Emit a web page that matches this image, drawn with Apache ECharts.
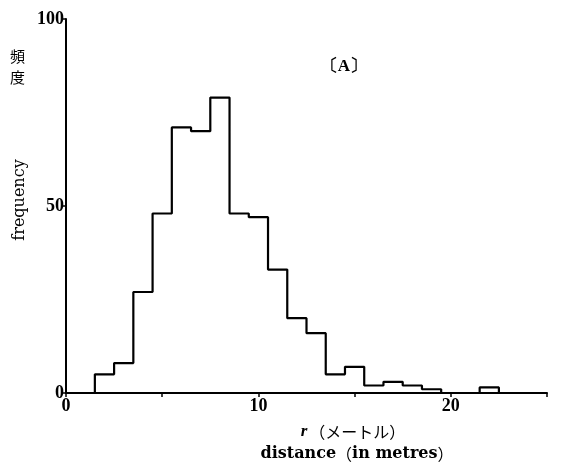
<!DOCTYPE html>
<html>
<head>
<meta charset="utf-8">
<script src="https://cdn.jsdelivr.net/npm/echarts@6/dist/echarts.min.js"></script>
<style>
html,body{margin:0;padding:0;background:#fff;}
#chart{width:563px;height:464px;}
</style>
</head>
<body>
<div id="chart"></div>
<script>
// Histogram data: left bin edges (metres) and frequencies, bin width 1
var binLeft = [1.5, 2.5, 3.5, 4.5, 5.5, 6.5, 7.5, 8.5, 9.5, 10.5, 11.5, 12.5, 13.5, 14.5, 15.5, 16.5, 17.5, 18.5, 19.5, 20.5, 21.5];
var binRight = [2.5, 3.5, 4.5, 5.5, 6.5, 7.5, 8.5, 9.5, 10.5, 11.5, 12.5, 13.5, 14.5, 15.5, 16.5, 17.5, 18.5, 19.5, 20.5, 21.5, 22.5];
var frequency = [5, 8, 27, 48, 71, 70, 79, 48, 47, 33, 20, 16, 5, 7, 2, 3, 2, 1, 0, 0, 1.5];
var xTickLabels = ['0', '10', '20'];
var yTickLabels = ['0', '50', '100'];

// Build step outline from the bins
var outline = [[binLeft[0], 0]];
for (var i = 0; i < frequency.length; i++) {
  outline.push([binLeft[i], frequency[i]]);
  outline.push([binRight[i], frequency[i]]);
}
outline.push([binRight[binRight.length - 1], 0]);

var serif = '"Liberation Serif", "DejaVu Serif", serif';
var wide = '"DejaVu Serif", serif';
var jp = '"Noto Sans CJK JP", sans-serif';

var chart = echarts.init(document.getElementById('chart'), null, {renderer: 'canvas'});
chart.setOption({
  backgroundColor: '#fff',
  animation: false,
  grid: {left: 66, right: 16, top: 19, bottom: 71, containLabel: false},
  xAxis: {
    type: 'value', min: 0, max: 25, interval: 5,
    axisLine: {lineStyle: {color: '#000', width: 2}},
    axisTick: {show: true, length: 4, lineStyle: {color: '#000', width: 1.5}},
    splitLine: {show: false},
    axisLabel: {
      color: '#000', fontFamily: serif, fontSize: 18, fontWeight: 'bold', margin: 4,
      formatter: function (v) { return xTickLabels.indexOf(String(v)) >= 0 ? String(v) : ''; }
    }
  },
  yAxis: {
    type: 'value', min: 0, max: 100, interval: 50,
    axisLine: {show: true, lineStyle: {color: '#000', width: 2}},
    axisTick: {show: true, length: 5, lineStyle: {color: '#000', width: 1.5}},
    splitLine: {show: false},
    axisLabel: {
      color: '#000', fontFamily: serif, fontSize: 18, fontWeight: 'bold', margin: 2,
      formatter: function (v) { return yTickLabels.indexOf(String(v)) >= 0 ? String(v) : ''; }
    }
  },
  series: [{
    type: 'line',
    data: outline,
    symbol: 'none',
    lineStyle: {color: '#000', width: 2.2},
    z: 3
  }],
  graphic: [
    {type: 'text', left: 10, top: 49, style: {text: '頻', font: '15px ' + jp, fill: '#000'}},
    {type: 'text', left: 10, top: 70, style: {text: '度', font: '15px ' + jp, fill: '#000'}},
    {type: 'text', x: 20, y: 200, rotation: Math.PI / 2,
      style: {text: 'frequency', font: '16px ' + wide, fill: '#000', align: 'center', verticalAlign: 'middle'}},
    {type: 'text', x: 344, y: 67,
      style: {text: '〔A〕', font: 'bold 17px ' + serif, fill: '#000', align: 'center', verticalAlign: 'middle'}},
    {type: 'text', x: 353, y: 432,
      style: {
        text: '{r|r}{j|（メートル）}', align: 'center', verticalAlign: 'middle',
        rich: {
          r: {font: 'italic bold 17px ' + serif, fill: '#000', padding: [0, 2, 0, 0]},
          j: {font: '16px ' + jp, fill: '#000'}
        }
      }},
    {type: 'text', x: 357, y: 454,
      style: {
        text: '{a|distance}{j|（}{a|in metres}{j|）}', align: 'center', verticalAlign: 'middle',
        rich: {
          a: {font: 'bold 16px ' + wide, fill: '#000'},
          j: {font: '16px ' + jp, fill: '#000'}
        }
      }}
  ]
});
</script>
</body>
</html>
